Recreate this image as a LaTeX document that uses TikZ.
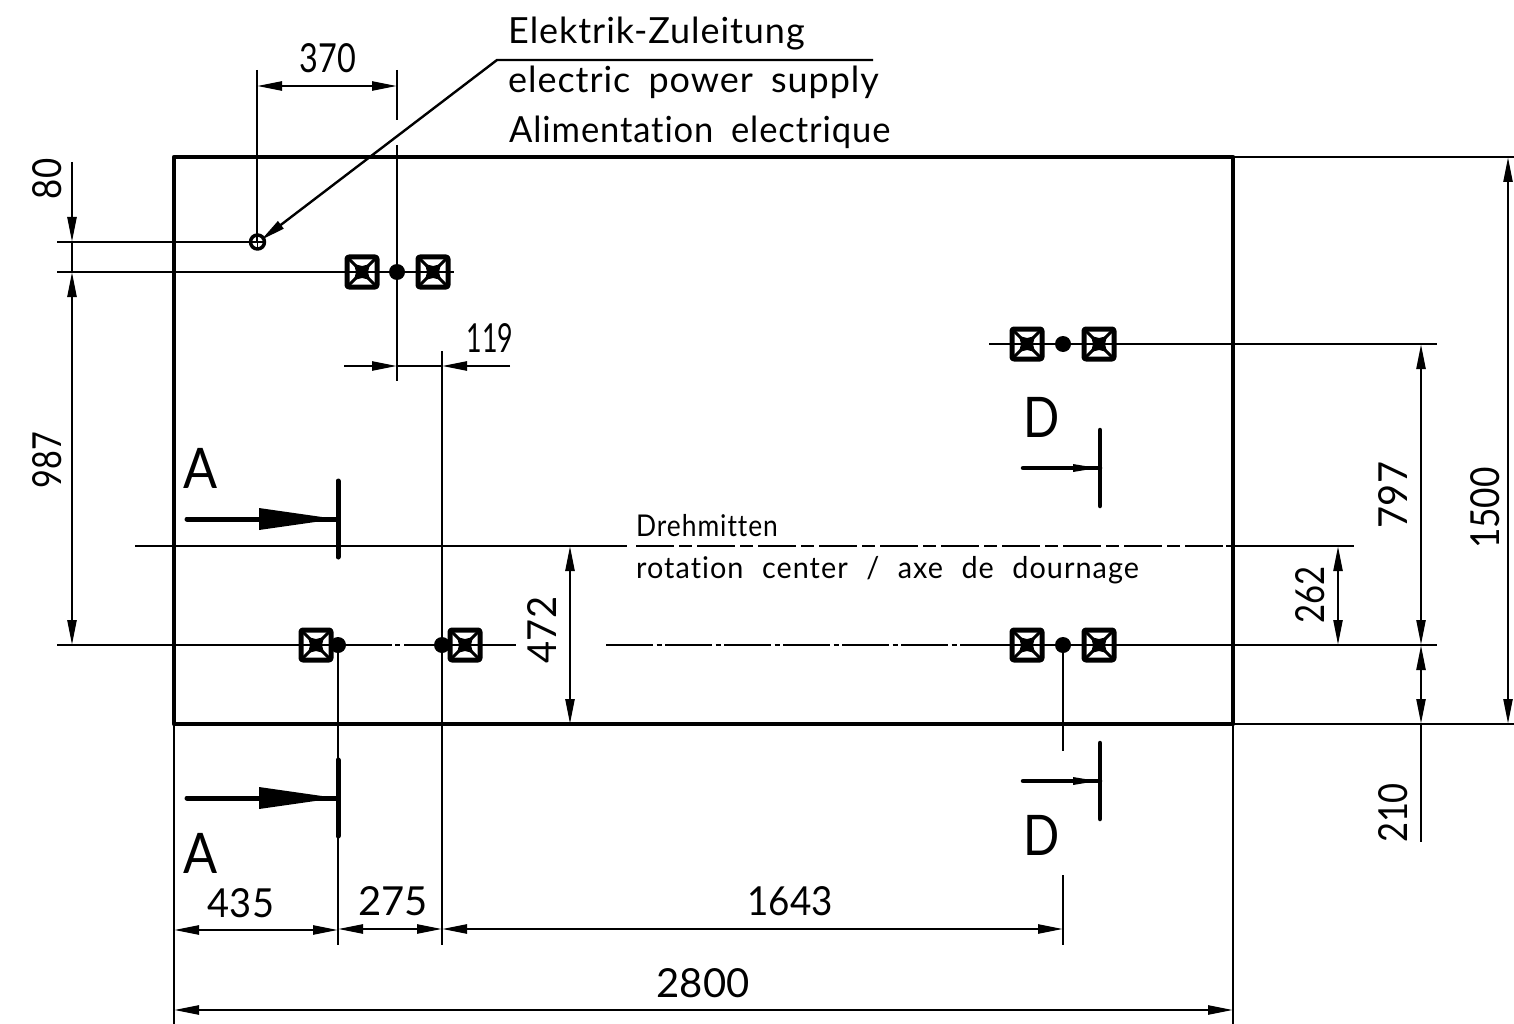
\documentclass[tikz,border=0pt]{standalone}
\usepackage{fontspec}
\setmainfont{Lato}[Ligatures=NoCommon]
\newfontfamily\notefont{Lato}[Ligatures=NoCommon, LetterSpace=2.6, WordSpace=1.8]
\newfontfamily\rotafont{Lato}[Ligatures=NoCommon, LetterSpace=3.6, WordSpace=2.2]
\usetikzlibrary{arrows.meta}
\tikzset{
  thinline/.style={line width=2.4pt},
  frameline/.style={line width=4.5pt},
  cutline/.style={line width=5pt},
  dimtext/.style={inner sep=0pt, font=\fontsize{40}{40}\selectfont},
  dimtextv/.style={dimtext, rotate=90},
  notetext/.style={inner sep=0pt, anchor=base west, font=\notefont\fontsize{36}{36}\selectfont},
  smalltext/.style={inner sep=0pt, anchor=base west, font=\rotafont\fontsize{30}{30}\selectfont},
  cuttext/.style={inner sep=0pt, font=\fontsize{56}{56}\selectfont},
}
\begin{document}
\begin{tikzpicture}[x=1pt, y=-1pt, line join=round, >={Triangle[length=25pt,width=9pt]}]
\useasboundingbox (0,0) rectangle (1514,1024);
% Plate outline
\draw[frameline] (174,157) rectangle (1233,724);
% Extension lines
\draw[thinline] (257,70) -- (257,242);
\draw[thinline] (397,70) -- (397,120);
\draw[thinline] (397,145) -- (397,381);
\draw[thinline] (57,242) -- (257,242);
\draw[thinline] (57,272) -- (454,272);
\draw[thinline] (989,344) -- (1437,344);
\draw[thinline] (442,351) -- (442,945);
\draw[thinline] (338,645) -- (338,945);
\draw[thinline] (1063,645) -- (1063,751);
\draw[thinline] (1063,875) -- (1063,945);
\draw[thinline] (1233,157) -- (1514,157);
\draw[thinline] (1233,724) -- (1514,724);
\draw[thinline] (174,724) -- (174,1024);
\draw[thinline] (1233,724) -- (1233,1024);
% Axis lines
\draw[thinline] (135,546) -- (627,546);
\draw[thinline, dash pattern=on 38pt off 5pt on 13pt off 5pt] (636,546) -- (1226,546);
\draw[thinline] (1226,546) -- (1354,546);
\draw[thinline] (57,645) -- (392,645);
\draw[thinline] (395,645) -- (400,645);
\draw[thinline] (404,645) -- (516,645);
\draw[thinline, dash pattern=on 47pt off 3.5pt on 5pt off 3.5pt] (606,645) -- (963,645);
\draw[thinline] (963,645) -- (1437,645);
% Dimensions
\draw[thinline, <->] (257,86) -- (397,86);
\draw[thinline, ->] (72,162) -- (72,242);
\draw[thinline] (72,242) -- (72,272);
\draw[thinline, <->] (72,272) -- (72,645);
\draw[thinline, ->] (344,366) -- (397,366);
\draw[thinline, ->] (510,366) -- (442,366);
\draw[thinline] (397,366) -- (442,366);
\draw[thinline, <->] (570,546) -- (570,724);
\draw[thinline, <->] (1338,546) -- (1338,645);
\draw[thinline, <->] (1421,344) -- (1421,645);
\draw[thinline, <->] (1421,645) -- (1421,724);
\draw[thinline] (1421,724) -- (1421,842);
\draw[thinline, <->] (1508,157) -- (1508,724);
\draw[thinline, <->] (174,930) -- (338,930);
\draw[thinline, <->] (338,929) -- (442,929);
\draw[thinline, <->] (442,929) -- (1063,929);
\draw[thinline, <->] (174,1010) -- (1233,1010);
\node[dimtext] (m370) at (328,58) {\scalebox{.81}[1]{370}};
\node[dimtext] (m119) at (490,338) {\scalebox{.67}[1]{119}};
\node[dimtext] (m435) at (241,903) {\scalebox{.95}[1]{435}};
\node[dimtext] (m275) at (393,901) {275};
\node[dimtext] (m1643) at (790,901) {\scalebox{.92}[1]{1643}};
\node[dimtext] (m2800) at (703,983) {2800};
\node[dimtextv] (m80) at (47,179) {\scalebox{.87}[1]{80}};
\node[dimtextv] (m987) at (47,460) {\scalebox{.81}[1]{987}};
\node[dimtextv] (m472) at (542,630) {\scalebox{.95}[1]{472}};
\node[dimtextv] (m262) at (1310,595) {\scalebox{.82}[1]{262}};
\node[dimtextv] (m797) at (1393,495) {\scalebox{.95}[1]{797}};
\node[dimtextv] (m210) at (1393,813) {\scalebox{.86}[1]{210}};
\node[dimtextv] (m1500) at (1485,508) {\scalebox{.88}[1]{1500}};
% Supply point and leader
\draw[line width=3.5pt] (257.5,242) circle (7);
\draw[line width=1.5pt] (252,242) -- (263,242) (257.5,236.5) -- (257.5,247.5);
\draw[thinline, ->] (873,60) -- (497,60) -- (261,240);
\node[notetext] (elek) at (508,44) {Elektrik-Zuleitung};
\node[notetext] (elec) at (508,93) {electric power supply};
\node[notetext] (alim) at (509,143) {\scalebox{.96}[1]{Alimentation electrique}};
\node[smalltext] (dreh) at (636,536) {\scalebox{.88}[1]{Drehmitten}};
\node[smalltext] (rota) at (636,578) {\scalebox{.96}[1]{rotation center / axe de dournage}};
% Bearings and pivots
\foreach \bx/\by in {362/272, 433/272, 316/645, 465/645, 1027/344, 1099/344, 1027/645, 1099/645}{
  \draw[line width=5pt, rounded corners=2pt, fill=white] (\bx-15,\by-15) rectangle (\bx+15,\by+15);
  \draw[line width=3pt] (\bx-15,\by-15) -- (\bx+15,\by+15) (\bx-15,\by+15) -- (\bx+15,\by-15);
  \draw[thinline] (\bx-15,\by) -- (\bx+15,\by);
  \fill (\bx-8,\by-8) -- (\bx,\by-6) -- (\bx+8,\by-8) -- (\bx+6,\by) -- (\bx+8,\by+8) -- (\bx,\by+6) -- (\bx-8,\by+8) -- (\bx-6,\by) -- cycle;
}
\foreach \bx/\by in {397/272, 338/645, 442/645, 1063/344, 1063/645}{
  \fill (\bx,\by) circle (8);
}
% Section marks
\foreach \cy in {519, 798}{
  \draw[cutline, line cap=round] (338,\cy-38) -- (338,\cy+38);
  \draw[cutline, line cap=round] (187,\cy) -- (338,\cy);
  \fill (259,\cy-11) -- (336,\cy) -- (259,\cy+11) -- cycle;
}
\foreach \cy in {468, 781}{
  \draw[frameline, line cap=round] (1100,\cy-38) -- (1100,\cy+38);
  \draw[frameline, line cap=round] (1023,\cy) -- (1100,\cy);
  \fill (1073,\cy-4) -- (1097,\cy) -- (1073,\cy+4) -- cycle;
}
\node[cuttext] (cutA) at (201,468) {\scalebox{.9}[1]{A}};
\node[cuttext] (cutAb) at (201,853) {\scalebox{.9}[1]{A}};
\node[cuttext] (cutD) at (1042,417) {\scalebox{.85}[1]{D}};
\node[cuttext] (cutDb) at (1042,835) {\scalebox{.85}[1]{D}};
\end{tikzpicture}
\end{document}
